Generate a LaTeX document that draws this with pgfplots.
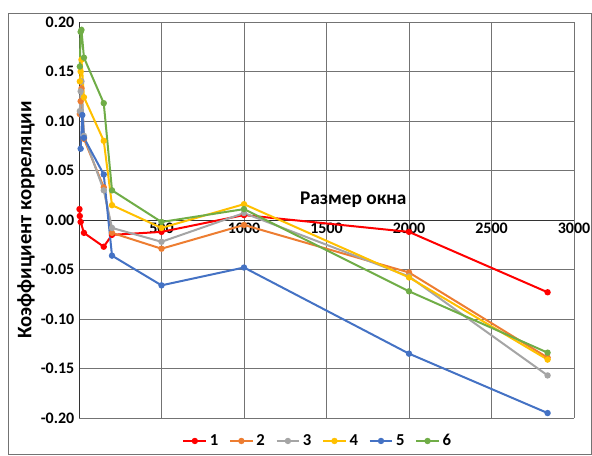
\documentclass[border=0pt]{standalone}
\usepackage{fontspec}
\setmainfont{Carlito}
\usepackage{pgfplots}
\pgfplotsset{compat=1.18}
\definecolor{c1}{RGB}{255,0,0}
\definecolor{c2}{RGB}{237,125,49}
\definecolor{c3}{RGB}{165,165,165}
\definecolor{c4}{RGB}{255,192,0}
\definecolor{c5}{RGB}{68,114,196}
\definecolor{c6}{RGB}{112,173,71}
\begin{document}
\begin{tikzpicture}
\useasboundingbox (-59.25pt,-27.75pt) rectangle (384.75pt,313.5pt);
\draw[black!55, line width=0.6pt] (-53.25pt,-27pt) rectangle (384pt,303.75pt);
\begin{axis}[
  at={(0,0)}, anchor=south west,
  scale only axis, width=371.25pt, height=297pt,
  xmin=0, xmax=3000, ymin=-0.2, ymax=0.2,
  axis x line=middle, axis y line=left,
  axis line style={-, draw=black!80, line width=0.7pt},
  grid=major, grid style={black!55, line width=0.7pt},
  major tick length=0pt,
  xtick={0,500,1000,1500,2000,2500,3000},
  ytick={-0.2,-0.15,-0.1,-0.05,0,0.05,0.1,0.15,0.2},
  /pgf/number format/assume math mode=true,
  xticklabel style={font=\bfseries\fontsize{12}{14}\selectfont, yshift=1pt},
  yticklabel style={font=\bfseries\fontsize{12}{14}\selectfont, /pgf/number format/.cd, fixed, fixed zerofill, precision=2},
  xticklabel={\pgfmathprintnumber[/pgf/number format/.cd, fixed, precision=0, 1000 sep={}]{\tick}},
  scaled y ticks=false,
  every axis plot/.append style={line width=1.5pt, mark=*, mark size=1.6pt},
  legend style={at={(0.483,-0.058)}, anchor=center, draw=none, fill=none,
    legend columns=6, font=\bfseries\fontsize{12.5}{14}\selectfont,
    /tikz/every even column/.append style={column sep=6pt}},
  clip=false,
]
\addplot[c1, mark options={fill=c1}] coordinates {(3,0.011) (5,0.004) (10,-0.002) (30,-0.013) (150,-0.027) (200,-0.015) (500,-0.012) (1000,0.005) (2000,-0.012) (2840,-0.073)};
\addplot[c2, mark options={fill=c2}] coordinates {(5,0.107) (10,0.120) (15,0.133) (30,0.082) (150,0.033) (200,-0.013) (500,-0.029) (1000,-0.005) (2000,-0.053) (2840,-0.139)};
\addplot[c3, mark options={fill=c3}] coordinates {(5,0.110) (10,0.130) (15,0.140) (30,0.085) (150,0.030) (200,-0.008) (500,-0.022) (1000,0.007) (2000,-0.057) (2840,-0.157)};
\addplot[c4, mark options={fill=c4}] coordinates {(5,0.140) (10,0.150) (15,0.162) (30,0.124) (150,0.080) (200,0.015) (500,-0.008) (1000,0.016) (2000,-0.058) (2840,-0.141)};
\addplot[c5, mark options={fill=c5}] coordinates {(10,0.072) (20,0.106) (30,0.083) (150,0.046) (200,-0.036) (500,-0.066) (1000,-0.048) (2000,-0.135) (2840,-0.195)};
\addplot[c6, mark options={fill=c6}] coordinates {(5,0.155) (10,0.190) (15,0.192) (30,0.164) (150,0.118) (200,0.030) (500,-0.002) (1000,0.011) (2000,-0.072) (2840,-0.134)};
\legend{1,2,3,4,5,6}
\node[rotate=90, font=\bfseries\fontsize{15.5}{17}\selectfont] at (rel axis cs:-0.107,0.5) {Коэффициент корреляции};
\node[font=\bfseries\fontsize{14.5}{16}\selectfont] at (rel axis cs:0.554,0.55) {Размер окна};
\end{axis}
\end{tikzpicture}
\end{document}
